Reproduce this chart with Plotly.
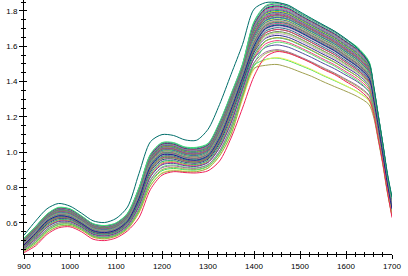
import plotly.graph_objects as go

# wavelength grid (nm)
wavelengths = [900, 925, 950, 975, 1000, 1025, 1050, 1075, 1100, 1125, 1150, 1175,
               1200, 1225, 1250, 1275, 1300, 1325, 1350, 1375, 1400, 1425, 1450, 1475,
               1500, 1525, 1550, 1575, 1600, 1625, 1650, 1660, 1670, 1680, 1690, 1700]

# outlying dark-teal spectrum (highest)
teal_outer = [0.53, 0.61, 0.68, 0.71, 0.695, 0.655, 0.612, 0.602, 0.625, 0.69, 0.88, 1.06,
              1.10, 1.095, 1.07, 1.068, 1.13, 1.27, 1.44, 1.61, 1.81, 1.847, 1.848, 1.832,
              1.795, 1.758, 1.722, 1.686, 1.642, 1.588, 1.505, 1.38, 1.21, 1.05, 0.88, 0.745]
# upper edge of main band
upper_edge = [0.515, 0.58, 0.65, 0.688, 0.68, 0.64, 0.596, 0.585, 0.60, 0.655, 0.80, 0.99,
              1.055, 1.055, 1.03, 1.028, 1.05, 1.17, 1.33, 1.50, 1.74, 1.83, 1.845, 1.83,
              1.79, 1.755, 1.72, 1.685, 1.64, 1.595, 1.515, 1.375, 1.215, 1.05, 0.875, 0.74]
# middle of band
mid_curve = [0.475, 0.54, 0.61, 0.64, 0.632, 0.597, 0.556, 0.545, 0.56, 0.61, 0.74, 0.92,
             0.985, 0.985, 0.962, 0.955, 0.98, 1.08, 1.24, 1.42, 1.60, 1.70, 1.72, 1.71,
             1.68, 1.645, 1.61, 1.575, 1.53, 1.485, 1.42, 1.30, 1.15, 0.99, 0.82, 0.68]
# red spectrum, lowest on the left
red_low = [0.432, 0.47, 0.535, 0.572, 0.578, 0.55, 0.508, 0.50, 0.515, 0.555, 0.63, 0.79,
           0.87, 0.89, 0.885, 0.883, 0.895, 0.95, 1.08, 1.25, 1.43, 1.54, 1.57, 1.56,
           1.535, 1.505, 1.47, 1.44, 1.40, 1.36, 1.30, 1.22, 1.08, 0.94, 0.78, 0.63]
# olive spectrum, lowest at the main peak
olive_low = [0.44, 0.48, 0.545, 0.58, 0.585, 0.56, 0.52, 0.51, 0.525, 0.565, 0.66, 0.81,
             0.88, 0.895, 0.89, 0.89, 0.91, 0.98, 1.10, 1.31, 1.475, 1.492, 1.497, 1.48,
             1.455, 1.43, 1.40, 1.372, 1.345, 1.315, 1.27, 1.20, 1.07, 0.93, 0.77, 0.64]

# relative position of the other spectra inside the band (+ toward upper edge, - toward lower)
band_pos = [0.96, 0.9, 0.86, 0.82, 0.78, 0.74, 0.7, 0.66, 0.62, 0.58, 0.55, 0.52, 0.48,
            0.45, 0.42, 0.38, 0.35, 0.32, 0.28, 0.25, 0.22, 0.18, 0.15, 0.12, 0.08, 0.05,
            0.02, -0.02, -0.05, -0.08, -0.12, -0.15, -0.19, -0.23, -0.27, -0.31, -0.36,
            -0.41, -0.47, -0.53, -0.6, -0.68, -0.76, -0.85, -0.93]
# lower spectra: share of red-like vs olive-like shape
band_lowmix = [0.2, 0.8, 0.5, 0.3, 0.7, 0.4, 0.9, 0.1, 0.6, 0.35, 0.75, 0.25, 0.55,
               0.15, 0.85, 0.45, 0.65, 0.05, 0.5, 0.3, 0.7, 0.2, 0.8, 0.4, 0.6, 0.1,
               0.9, 0.3, 0.7, 0.5, 0.2, 0.8, 0.4, 0.6, 0.1, 0.9, 0.3, 0.7, 0.5, 0.15,
               0.85, 0.25, 0.45, 0.05, 0.35]
band_colors = ["#7a2a9a", "#33ee66", "#1e1e8c", "#e0206a", "#40c890", "#8c7aa8", "#a03a8c",
               "#00a08c", "#c8c800", "#2c2ca0", "#60d890", "#b04a90", "#5a6aa0", "#ff2a5a",
               "#30a060", "#9a9a9a", "#6a2aa0", "#00c0a0", "#e8e840", "#3a3a90", "#90e0a0",
               "#c06090", "#a0a050", "#1a8a8a", "#ff5080", "#7070b0", "#40f080", "#8a4ab0",
               "#d0d0d0", "#2a6a8a", "#50c050", "#e03070", "#6a6a6a", "#a0e060", "#303090",
               "#c8a0c8", "#20b070", "#b0b040", "#f04080", "#5050a0", "#60e070", "#9a6aa0",
               "#a8a850", "#40e060", "#f0f060"]

fig = go.Figure()

for i, p in enumerate(band_pos):
    q = band_lowmix[i]
    vals = []
    for k in range(len(wavelengths)):
        if p >= 0:
            vals.append(mid_curve[k] + p * (upper_edge[k] - mid_curve[k]))
        else:
            low = q * red_low[k] + (1 - q) * olive_low[k]
            vals.append(mid_curve[k] + (-p) * (low - mid_curve[k]))
    fig.add_trace(go.Scatter(x=wavelengths, y=vals, mode="lines",
                             line=dict(color=band_colors[i % len(band_colors)], width=1,
                                       shape="spline", smoothing=0.8),
                             hoverinfo="skip", showlegend=False))

base = [(upper_edge, "#3ce878"), (mid_curve, "#1e1e8c"), (olive_low, "#a0a050"),
        (red_low, "#f0205a"), (teal_outer, "#006e6a")]
for vals, col in base:
    fig.add_trace(go.Scatter(x=wavelengths, y=vals, mode="lines",
                             line=dict(color=col, width=1, shape="spline", smoothing=0.8),
                             hoverinfo="skip", showlegend=False))

tickfont = dict(family="Liberation Sans, Arial, sans-serif", size=8, color="#000000")
xr = [900, 1700]
yr = [0.424, 1.862]

fig.update_layout(
    width=408, height=276,
    margin=dict(l=24, r=16, t=0, b=22, autoexpand=False),
    paper_bgcolor="white", plot_bgcolor="white",
    xaxis=dict(range=xr, tick0=900, dtick=100, ticks="outside", ticklen=4, tickwidth=1,
               tickcolor="black", showline=True, linecolor="black", linewidth=1,
               showgrid=False, zeroline=False, tickfont=tickfont,
               minor=dict(dtick=20, ticks="outside", ticklen=2, tickcolor="black", showgrid=False)),
    yaxis=dict(range=yr, tick0=0.6, dtick=0.2, ticks="outside", ticklen=4, tickwidth=1,
               tickcolor="black", showline=True, linecolor="black", linewidth=1,
               showgrid=False, zeroline=False, tickfont=tickfont, tickformat=".1f",
               minor=dict(dtick=0.05, ticks="outside", ticklen=2, tickcolor="black", showgrid=False)),
    xaxis2=dict(range=xr, overlaying="x", anchor="y", side="bottom", tick0=900, dtick=100,
                ticks="inside", ticklen=3, tickcolor="black", showticklabels=False,
                showgrid=False, zeroline=False, showline=False,
                minor=dict(dtick=20, ticks="inside", ticklen=2, tickcolor="black", showgrid=False)),
    yaxis2=dict(range=yr, overlaying="y", anchor="x", side="left", tick0=0.6, dtick=0.2,
                ticks="inside", ticklen=3, tickcolor="black", showticklabels=False,
                showgrid=False, zeroline=False, showline=False,
                minor=dict(dtick=0.05, ticks="inside", ticklen=2, tickcolor="black", showgrid=False)),
)
# dummy invisible trace so the overlay axes are drawn
fig.add_trace(go.Scatter(x=[None], y=[None], xaxis="x2", yaxis="y2", showlegend=False,
                         hoverinfo="skip"))

fig.add_annotation(text="波长(nm)", xref="paper", yref="paper", x=0.5, y=-0.072,
                   xanchor="center", yanchor="top", showarrow=False,
                   font=dict(family="Noto Sans CJK SC, sans-serif", size=10, color="black"))

fig.write_html("out.html", config={"displayModeBar": False})
